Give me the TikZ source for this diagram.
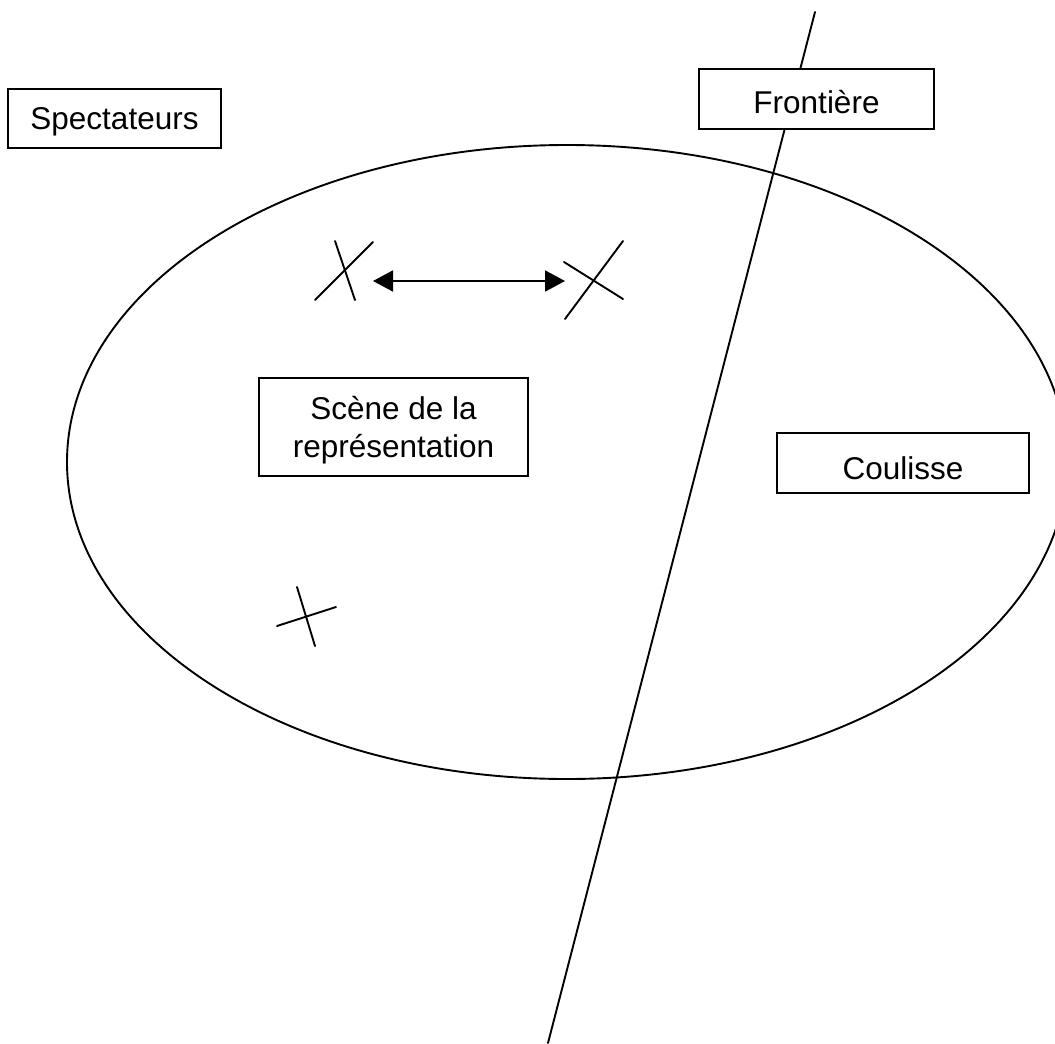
\documentclass[tikz,border=0pt]{standalone}
\usepackage{fontspec}
\setmainfont{Liberation Sans}
\usetikzlibrary{arrows.meta}
\begin{document}
\begin{tikzpicture}[x=1pt,y=-1pt,
  box/.style={draw=black,fill=white,line width=1.9pt,inner sep=0pt},
  txt/.style={inner sep=0pt,align=center,font=\fontsize{31.5}{38}\selectfont},
  thin/.style={line width=1.9pt,line cap=round}]
\useasboundingbox (0,0) rectangle (1055,1044);
\clip (0,0) rectangle (1055,1044);
% ellipse
\draw[thin] (567,462) ellipse [x radius=500, y radius=317];
% frontier line
\coordinate (ftop) at (815,12);
\coordinate (fbot) at (548,1043);
\draw[thin] (ftop) -- (fbot);
% boxes
\node[box,minimum width=213pt,minimum height=59pt] (spect) at (114.5,118.5) {};
\node[txt,yshift=-3pt] (spectT) at (spect.center) {Spectateurs};
\node[box,minimum width=235pt,minimum height=60pt] (front) at (816.5,99) {};
\node[txt,yshift=-3pt] (frontT) at (front.center) {Frontière};
\node[box,minimum width=269pt,minimum height=98pt] (scene) at (393.5,427) {};
\node[txt,yshift=-3pt] (sceneT) at (scene.center) {Scène de la\\représentation};
\node[box,minimum width=252pt,minimum height=60pt] (coul) at (903,463) {};
\node[txt,yshift=-5pt] (coulT) at (coul.center) {Coulisse};
% cross 1
\coordinate (a1) at (335,241); \coordinate (a2) at (355,300);
\coordinate (a3) at (315,300); \coordinate (a4) at (373,242);
\draw[thin] (a1) -- (a2); \draw[thin] (a3) -- (a4);
% cross 2
\coordinate (b1) at (565,319); \coordinate (b2) at (623,241);
\coordinate (b3) at (564,262); \coordinate (b4) at (623,299);
\draw[thin] (b1) -- (b2); \draw[thin] (b3) -- (b4);
% cross 3
\coordinate (c1) at (297,587); \coordinate (c2) at (315,646);
\coordinate (c3) at (277,626); \coordinate (c4) at (336,607);
\draw[thin] (c1) -- (c2); \draw[thin] (c3) -- (c4);
% arrow
\coordinate (l) at (373,281); \coordinate (r) at (565,281);
\draw[line width=1.9pt,{Triangle[length=20pt,width=21pt]}-{Triangle[length=20pt,width=21pt]}] (l) -- (r);
\end{tikzpicture}
\end{document}
